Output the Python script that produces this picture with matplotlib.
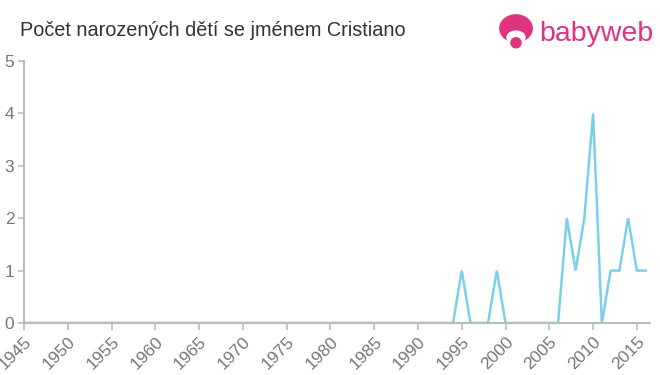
import matplotlib.pyplot as plt
from matplotlib.patches import Circle, Ellipse

plt.rcParams['font.family'] = ['Liberation Sans', 'DejaVu Sans']

# data
years = list(range(1945, 2017))
counts = [0] * len(years)
values = {1995: 1, 1999: 1, 2007: 2, 2008: 1, 2009: 2, 2010: 4,
          2012: 1, 2013: 1, 2014: 2, 2015: 1, 2016: 1}
for y, v in values.items():
    counts[years.index(y)] = v

x_ticks = list(range(1945, 2020, 5))
y_ticks = [0, 1, 2, 3, 4, 5]

title = "Počet narozených dětí se jménem Cristiano"
line_color = "#7ccfec"
axis_color = "#bbbbbb"
text_color = "#777777"
pink = "#e0337f"

fig = plt.figure(figsize=(6.6, 3.75), dpi=100)
ax = fig.add_axes([24 / 660, 52 / 375, 626 / 660, 262 / 375])

ax.plot(years, counts, color=line_color, linewidth=1.8, solid_joinstyle="miter")
ax.set_xlim(1945, 2016.5)
ax.set_ylim(0, 5)
ax.set_xticks(x_ticks)
ax.set_yticks(y_ticks)
ax.set_xticklabels([str(t) for t in x_ticks], rotation=45, ha="right",
                   rotation_mode="anchor", fontsize=12.5, color=text_color)
ax.set_yticklabels([str(t) for t in y_ticks], fontsize=12.5, color=text_color)

for s in ["top", "right"]:
    ax.spines[s].set_visible(False)
for s in ["left", "bottom"]:
    ax.spines[s].set_color(axis_color)
    ax.spines[s].set_linewidth(1.5)
ax.tick_params(axis="both", color=axis_color, length=5, width=1.2, pad=3)
ax.tick_params(axis="y", length=4)

fig.text(20 / 660, 1 - 30 / 375, title, fontsize=14.3, color="#333333",
         va="center", ha="left")

# babyweb logo
logo_ax = fig.add_axes([498 / 660, 1 - 50 / 375, 36 / 660, 36 / 375])
logo_ax.set_xlim(0, 1)
logo_ax.set_ylim(0, 1)
logo_ax.set_aspect("equal")
logo_ax.axis("off")
logo_ax.add_patch(Ellipse((0.5, 0.6), 0.9, 0.75, color=pink))
logo_ax.add_patch(Ellipse((0.5, 0.35), 0.5, 0.35, color="white"))
logo_ax.add_patch(Circle((0.5, 0.2), 0.14, color=pink))
fig.text(539 / 660, 1 - 34 / 375, "babyweb", fontsize=20.5, color=pink,
         va="center", ha="left")

fig.savefig("out.png", dpi=100)
